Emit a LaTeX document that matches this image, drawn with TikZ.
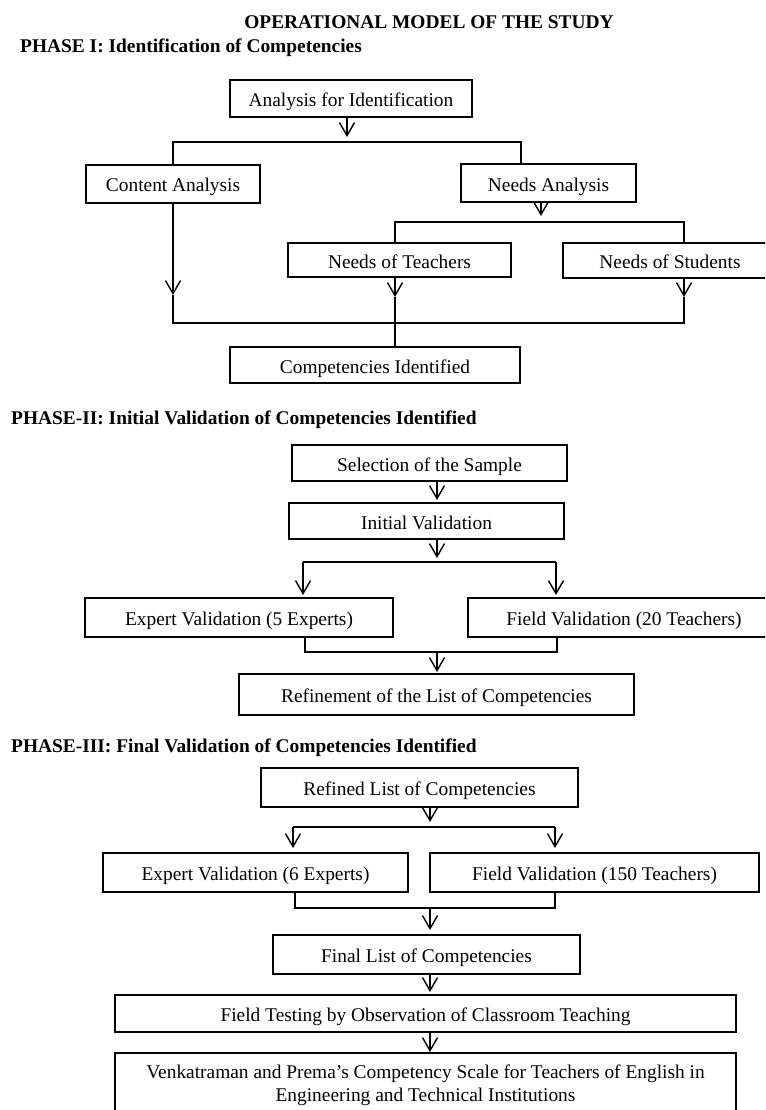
\documentclass[tikz,border=0pt]{standalone}
\usepackage{fontspec}
\setmainfont{Liberation Serif}
\usetikzlibrary{arrows.meta}
\begin{document}
\begin{tikzpicture}[x=1pt,y=-1pt,
  box/.style={draw, line width=1.4pt, inner sep=0pt, font=\fontsize{19.4}{23}\selectfont, text height=16pt, text depth=0pt},
  head/.style={inner sep=0pt, font=\fontsize{19.4}{23}\selectfont\bfseries},
  ln/.style={line width=1.4pt},
  arr/.style={line width=1.4pt, -{Straight Barb[length=13pt,width=15pt]}}]
\useasboundingbox (0,0) rectangle (765,1110);
\clip (0,0) rectangle (765,1110);
\fill[white] (0,0) rectangle (765,1110);

% headings
\node[head, anchor=base] (title) at (429,29) {OPERATIONAL MODEL OF THE STUDY};
\node[head, anchor=base west] (ph1) at (20,53) {PHASE I: Identification of Competencies};
\node[head, anchor=base west] (ph2) at (11,424) {PHASE-II: Initial Validation of Competencies Identified};
\node[head, anchor=base west] (ph3) at (11,752) {PHASE-III: Final Validation of Competencies Identified};

% ---------- Phase I ----------
\node[box, minimum width=242pt, minimum height=37pt] (ana) at (351,98.5) {Analysis for Identification};
\node[box, minimum width=174pt, minimum height=38pt] (con) at (173,184) {Content Analysis};
\node[box, minimum width=175pt, minimum height=38pt] (nee) at (548.5,183) {Needs Analysis};
\node[box, minimum width=223pt, minimum height=34pt] (nt) at (399.5,260) {Needs of Teachers};
\node[box, minimum width=214pt, minimum height=35pt] (ns) at (670,260.5) {Needs of Students};
\node[box, minimum width=290pt, minimum height=36pt] (ci) at (375,365) {Competencies Identified};

\coordinate (t1) at (347,137);
\coordinate (h1L) at (173,142);
\coordinate (h1R) at (521,142);
\coordinate (t2) at (541,216);
\coordinate (h2L) at (395,222);
\coordinate (h2R) at (684,222);
\coordinate (t3) at (173,295);
\coordinate (t4) at (395,297);
\coordinate (t5) at (684,297);
\coordinate (b1L) at (173,323);
\coordinate (b1R) at (684,323);

\draw[arr] (ana.south -| t1) -- (t1);
\draw[ln] (con.north) -- (h1L) -- (h1R) -- (h1R |- nee.north);
\draw[arr] (nee.south -| t2) -- (t2);
\draw[ln] (h2L |- nt.north) -- (h2L) -- (h2R) -- (h2R |- ns.north);
\draw[arr] (con.south) -- (t3);
\draw[arr] (nt.south -| t4) -- (t4);
\draw[arr] (ns.south -| t5) -- (t5);
\draw[ln] (t3) -- (b1L) -- (b1R) -- (t5);
\draw[ln] (t4) -- (t4 |- ci.north);

% ---------- Phase II ----------
\node[box, minimum width=275pt, minimum height=36pt] (sel) at (429.5,463) {Selection of the Sample};
\node[box, minimum width=275pt, minimum height=36pt] (iv) at (426.5,521) {Initial Validation};
\node[box, minimum width=308pt, minimum height=39pt] (ev5) at (239,617.5) {Expert Validation (5 Experts)};
\node[box, minimum width=312pt, minimum height=39pt] (fv20) at (624,617.5) {Field Validation (20 Teachers)};
\node[box, minimum width=395pt, minimum height=41pt] (ref) at (436.5,694.5) {Refinement of the List of Competencies};

\coordinate (t6) at (437,500);
\coordinate (t7) at (437,558);
\coordinate (h3L) at (303,562);
\coordinate (h3R) at (556,562);
\coordinate (t8L) at (303,595);
\coordinate (t8R) at (556,595);
\coordinate (b2L) at (305,652);
\coordinate (b2R) at (557,652);
\coordinate (t9) at (437,672);

\draw[arr] (sel.south -| t6) -- (t6);
\draw[arr] (iv.south -| t7) -- (t7);
\draw[ln] (h3L) -- (h3R);
\draw[arr] (h3L) -- (t8L);
\draw[arr] (h3R) -- (t8R);
\draw[ln] (b2L |- ev5.south) -- (b2L) -- (b2R) -- (b2R |- fv20.south);
\draw[arr] (t9 |- b2L) -- (t9);

% ---------- Phase III ----------
\node[box, minimum width=317pt, minimum height=39pt] (rl) at (419.5,787.5) {Refined List of Competencies};
\node[box, minimum width=305pt, minimum height=39pt] (ev6) at (255.5,872.5) {Expert Validation (6 Experts)};
\node[box, minimum width=329pt, minimum height=39pt] (fv150) at (594.5,872.5) {Field Validation (150 Teachers)};
\node[box, minimum width=307pt, minimum height=39pt] (fl) at (426.5,954.5) {Final List of Competencies};
\node[box, minimum width=621pt, minimum height=37pt] (ft) at (425.5,1013.5) {Field Testing by Observation of Classroom Teaching};
\node[box, minimum width=621pt, minimum height=64pt, text height={}, text depth={}, align=center] (vk) at (425.5,1085)
  {Venkatraman and Prema’s Competency Scale for Teachers of English in\\Engineering and Technical Institutions};

\coordinate (t10) at (430,822);
\coordinate (h4L) at (293,827);
\coordinate (h4R) at (555,827);
\coordinate (t11L) at (293,848);
\coordinate (t11R) at (555,848);
\coordinate (b3L) at (295,908);
\coordinate (b3R) at (555,908);
\coordinate (t12) at (430,930);
\coordinate (t13) at (430,992);
\coordinate (t14) at (430,1052);

\draw[arr] (rl.south -| t10) -- (t10);
\draw[ln] (h4L) -- (h4R);
\draw[arr] (h4L) -- (t11L);
\draw[arr] (h4R) -- (t11R);
\draw[ln] (b3L |- ev6.south) -- (b3L) -- (b3R) -- (b3R |- fv150.south);
\draw[arr] (t12 |- b3L) -- (t12);
\draw[arr] (fl.south -| t13) -- (t13);
\draw[arr] (ft.south -| t14) -- (t14);
\end{tikzpicture}
\end{document}
